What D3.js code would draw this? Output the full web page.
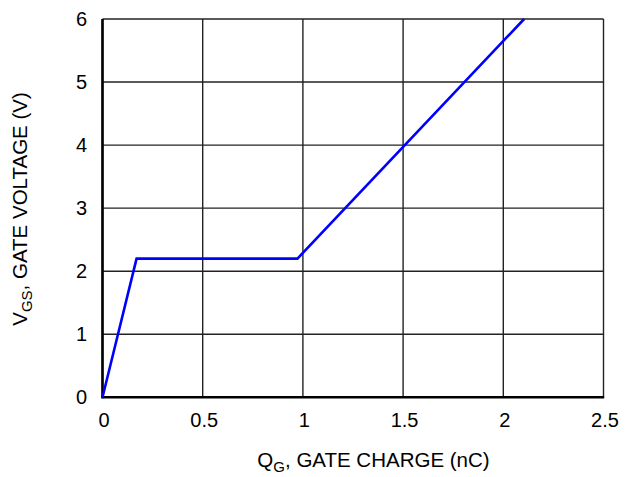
<!DOCTYPE html>
<html><head><meta charset="utf-8">
<script src="https://cdn.jsdelivr.net/npm/d3@7"></script>
<style>
body{margin:0;background:#fff;}
text{font-family:"Liberation Sans",Arial,Helvetica,sans-serif;fill:#000;}
</style></head><body>
<svg id="c" width="636" height="477"></svg>
<script>
const qg = [0, 0.17, 0.973, 2.104];
const vgs = [0, 2.2, 2.2, 6];
const xTicks = [0, 0.5, 1, 1.5, 2, 2.5];
const xTickLabels = ["0", "0.5", "1", "1.5", "2", "2.5"];
const yTicks = [0, 1, 2, 3, 4, 5, 6];
const yTickLabels = ["0", "1", "2", "3", "4", "5", "6"];

const svg = d3.select("#c");
const m = {l:102.5, r:603.5, t:19, b:397.3};
const x = d3.scaleLinear().domain([0,2.5]).range([m.l, m.r]);
const y = d3.scaleLinear().domain([0,6]).range([m.b, m.t]);

// grid
svg.append("g").selectAll("line").data(xTicks).join("line")
  .attr("x1", d=>x(d)).attr("x2", d=>x(d)).attr("y1", m.t).attr("y2", m.b)
  .attr("stroke", "#222").attr("stroke-width", 1.4);
svg.append("g").selectAll("line").data(yTicks).join("line")
  .attr("y1", d=>y(d)).attr("y2", d=>y(d)).attr("x1", m.l).attr("x2", m.r)
  .attr("stroke", "#222").attr("stroke-width", 1.4);

// axes (thicker left and bottom)
svg.append("line").attr("x1", m.l).attr("x2", m.l).attr("y1", m.t).attr("y2", m.b+1)
  .attr("stroke", "#000").attr("stroke-width", 2.6);
svg.append("line").attr("x1", m.l-1).attr("x2", m.r+0.7).attr("y1", m.b).attr("y2", m.b)
  .attr("stroke", "#000").attr("stroke-width", 2.6);

// tick labels
svg.append("g").selectAll("text").data(xTicks).join("text")
  .attr("x", d=>x(d)+1.5).attr("y", 427).attr("text-anchor", "middle")
  .attr("font-size", 20).text((d,i)=>xTickLabels[i]);
svg.append("g").selectAll("text").data(yTicks).join("text")
  .attr("x", 87).attr("y", d=>y(d)+7).attr("text-anchor", "end")
  .attr("font-size", 20).text((d,i)=>yTickLabels[i]);

// curve
const line = d3.line().x(d=>x(d[0])).y(d=>y(d[1]));
svg.append("path").datum(qg.map((q,i)=>[q, vgs[i]]))
  .attr("d", line).attr("fill", "none").attr("stroke", "#0000ff")
  .attr("stroke-width", 2.6).attr("stroke-linejoin", "miter");

// x title
const xt = svg.append("text").attr("x", 373.5).attr("y", 467)
  .attr("text-anchor", "middle").attr("font-size", 20.5);
xt.append("tspan").text("Q");
xt.append("tspan").attr("font-size", 15).attr("dy", 5).text("G");
xt.append("tspan").attr("dy", -5).text(", GATE CHARGE (nC)");

// y title
const yt = svg.append("text").attr("transform", `translate(27,209) rotate(-90)`)
  .attr("text-anchor", "middle").attr("font-size", 20.5);
yt.append("tspan").text("V");
yt.append("tspan").attr("font-size", 15).attr("dy", 5).text("GS");
yt.append("tspan").attr("dy", -5).text(", GATE VOLTAGE (V)");
</script>
</body></html>
